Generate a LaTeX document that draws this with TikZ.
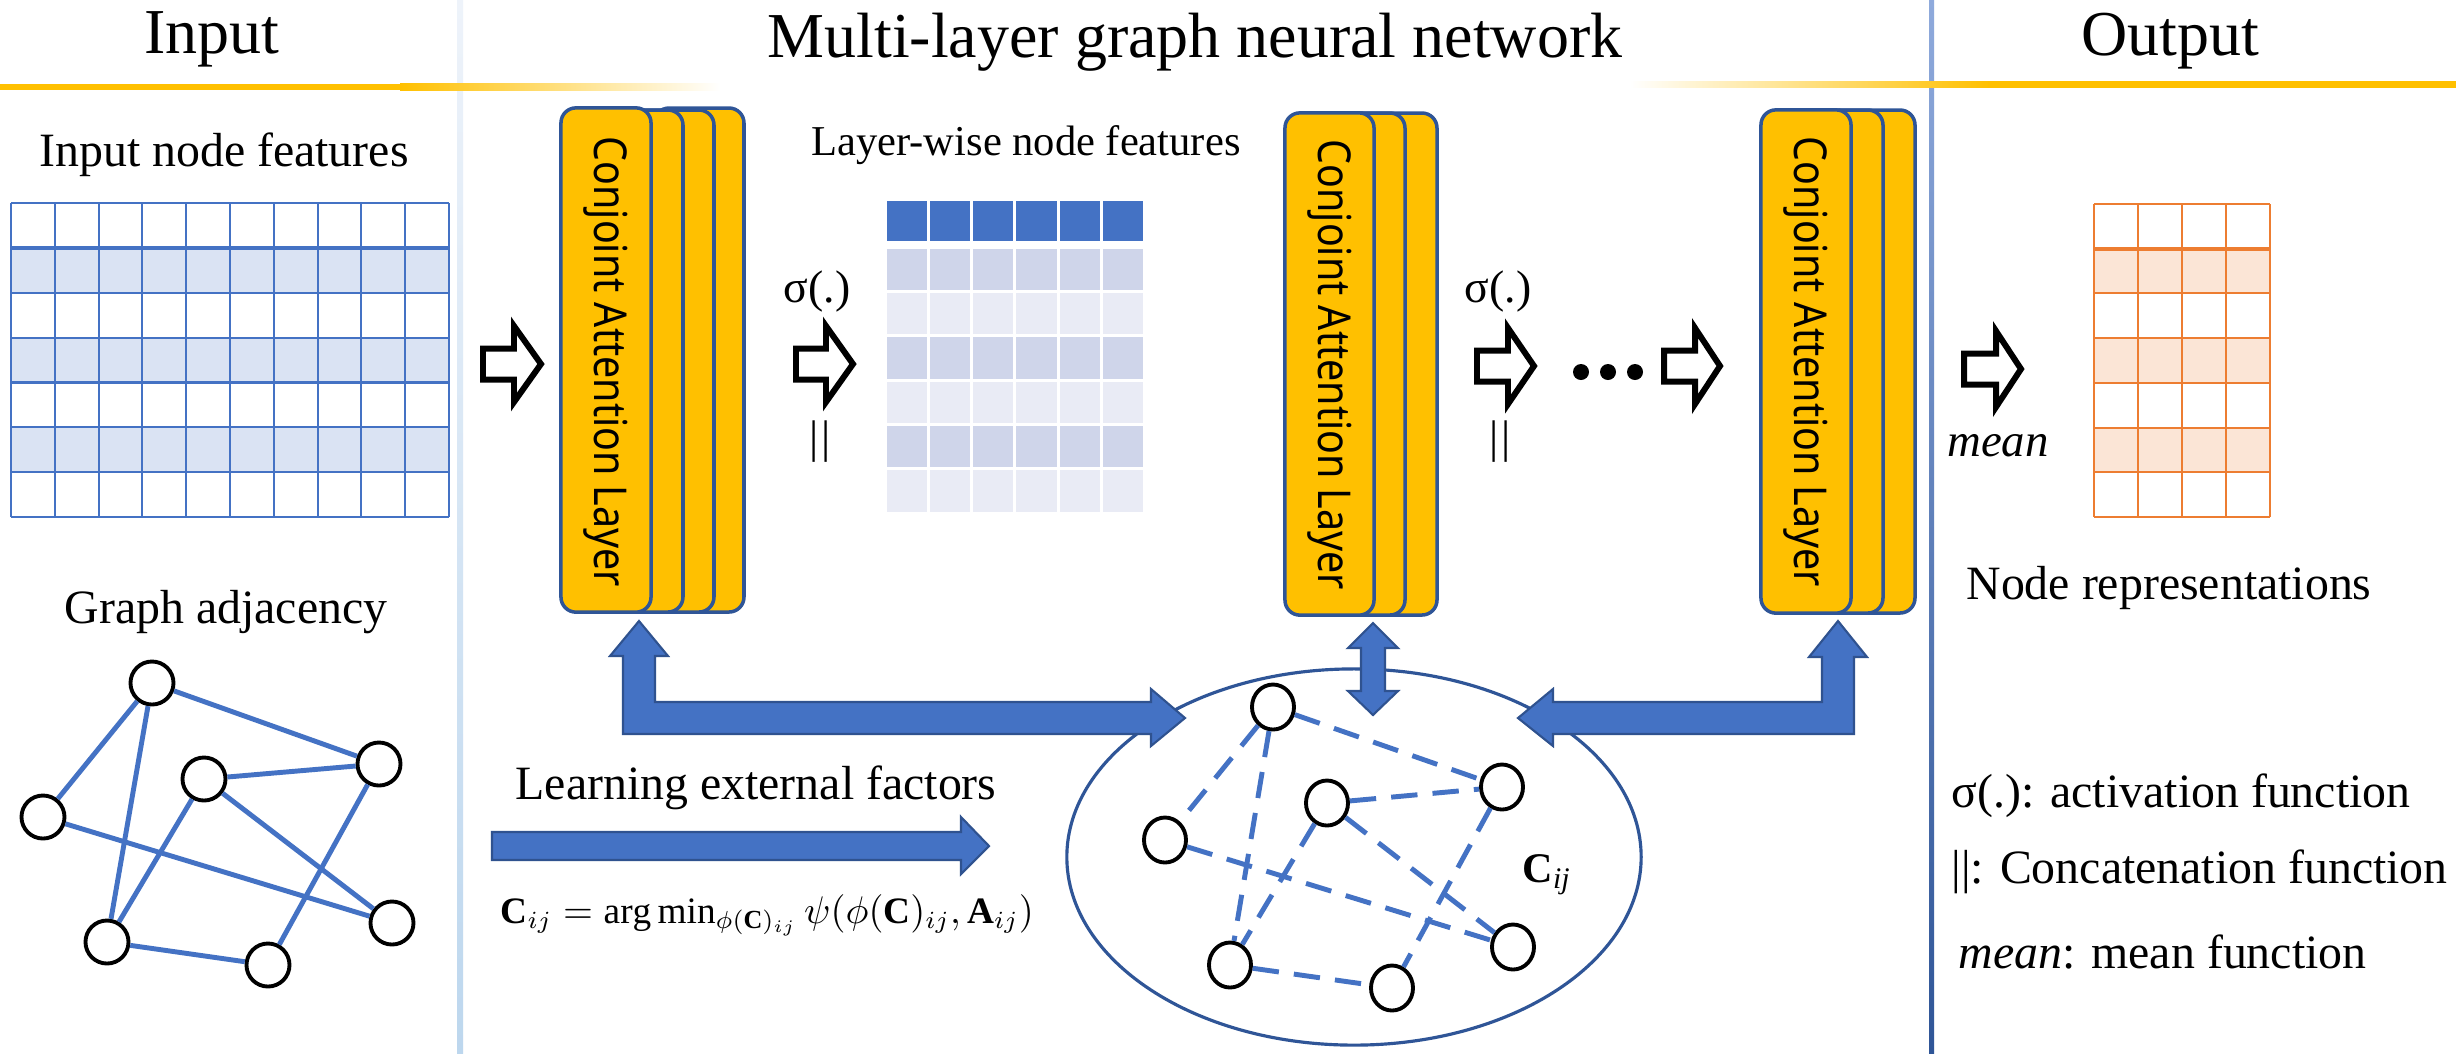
\documentclass[tikz,border=0pt]{standalone}
\usepackage{fontspec}
\usepackage{graphicx}
\setmainfont{Liberation Serif}
\newfontfamily\calfont{Noto Sans}
\usetikzlibrary{shapes.geometric}
\definecolor{accblue}{HTML}{4472C4}
\definecolor{darkblue}{HTML}{2F5597}
\definecolor{edgeblue}{HTML}{2F528F}
\definecolor{gold}{HTML}{FFC000}
\definecolor{lightrow}{HTML}{DAE3F3}
\definecolor{bandA}{HTML}{CFD5EA}
\definecolor{bandB}{HTML}{E9EBF5}
\definecolor{orng}{HTML}{ED7D31}
\definecolor{orngrow}{HTML}{FBE5D6}
\definecolor{seplight}{HTML}{BDD7EE}
\definecolor{septop}{HTML}{EEF3FA}
\definecolor{sepmid}{HTML}{8FAADC}
\newcommand\harw[4]{%
  \draw[harrow] (#1,#4-15.5) -- (#2,#4-15.5) -- (#2,#4-38) -- (#3,#4) -- (#2,#4+38) -- (#2,#4+15.5) -- (#1,#4+15.5) -- cycle;}
\tikzset{
  hdr/.style={font=\fontsize{18.2}{22}\selectfont, inner sep=0pt, anchor=base},
  lbl/.style={font=\fontsize{13.6}{16}\selectfont, inner sep=0pt, anchor=base},
  stackbox/.style={fill=gold, draw=darkblue, line width=1pt, rounded corners=0.15cm},
  caltext/.style={rotate=-90, inner sep=0pt, font=\calfont\fontsize{11.2}{13}\selectfont},
  harrow/.style={fill=white, draw=black, line width=1.7pt, line join=miter, miter limit=10},
  barrow/.style={fill=accblue, draw=edgeblue, line width=0.6pt, line join=miter},
  gnode/.style={circle, draw=black, fill=white, line width=1.1pt, minimum size=0.43cm, inner sep=0pt},
  hnode/.style={ellipse, draw=black, fill=white, line width=1.1pt, minimum width=0.42cm, minimum height=0.45cm, inner sep=0pt},
  gedge/.style={draw=accblue, line width=1.4pt},
  hedge/.style={draw=accblue, line width=1.4pt, dash pattern=on 7.5pt off 4.3pt},
  bgrid/.style={draw=accblue, line width=0.6pt},
  ogrid/.style={draw=orng, line width=0.6pt},
}
\begin{document}
\begin{tikzpicture}[x=0.01cm,y=-0.01cm]
\useasboundingbox (0,0) rectangle (2456,1053);
\fill[white] (0,0) rectangle (2456,1053);

% separators and header rules
\shade[top color=septop, bottom color=seplight] (457,0) rectangle (463,1053);
\shade[top color=sepmid, bottom color=darkblue] (1929,0) rectangle (1934,1053);
\fill[gold] (0,83.5) rectangle (400,90);
\shade[left color=gold, right color=white] (400,83.5) rectangle (720,90);
\shade[left color=white, right color=gold] (1630,81) rectangle (1990,87.5);
\fill[gold] (1990,81) rectangle (2456,87.5);

% headers
\node[hdr] (hin) at (212,53) {Input};
\node[hdr] (hmid) at (1195,57) {Multi-layer graph neural network};
\node[hdr] (hout) at (2170,55) {Output};

% input node features
\node[lbl] (tinf) at (224,166) {Input node features};
\foreach \r in {1,3,5}
  \fill[lightrow] (11,{203+\r*44.857}) rectangle (449,{203+(\r+1)*44.857});
\foreach \i in {0,...,10}
  \draw[bgrid] ({11+\i*43.8},203) -- ({11+\i*43.8},517);
\foreach \j in {0,2,3,4,5,6,7}
  \draw[bgrid] (11,{203+\j*44.857}) -- (449,{203+\j*44.857});
\draw[accblue, line width=1.2pt] (11,247.9) -- (449,247.9);

% graph adjacency
\node[lbl] (tga) at (226,623) {Graph adjacency};
\node[gnode] (g1) at (152,683) {};
\node[gnode] (g2) at (379,764) {};
\node[gnode] (g3) at (204,779) {};
\node[gnode] (g4) at (43,817) {};
\node[gnode] (g5) at (392,923) {};
\node[gnode] (g6) at (107,942) {};
\node[gnode] (g7) at (268,965) {};
\foreach \a/\b in {g1/g4,g1/g6,g1/g2,g3/g2,g3/g6,g3/g5,g4/g5,g2/g7,g6/g7}
  \draw[gedge] (\a) -- (\b);

% layer stack 1
\draw[stackbox] (654,108) rectangle (744,612);
\draw[stackbox] (624,110) rectangle (714,612);
\draw[stackbox] (593,110) rectangle (683,612);
\node[stackbox, minimum width=0.9cm, minimum height=5.04cm, inner sep=0pt] (L1) at (606,360) {};
\node[caltext] (t1) at (606,362) {\scalebox{1}[1.15]{Conjoint Attention Layer}};

% layer stack 2
\draw[stackbox] (1348,113) rectangle (1437,615);
\draw[stackbox] (1316,113) rectangle (1405,615);
\node[stackbox, minimum width=0.89cm, minimum height=5.02cm, inner sep=0pt] (L2) at (1329.5,364) {};
\node[caltext] (t2) at (1329.5,365) {\scalebox{1}[1.15]{Conjoint Attention Layer}};

% layer stack 3
\draw[stackbox] (1826,110) rectangle (1915,613);
\draw[stackbox] (1794,110) rectangle (1883,613);
\node[stackbox, minimum width=0.9cm, minimum height=5.03cm, inner sep=0pt] (L3) at (1806,361.5) {};
\node[caltext] (t3) at (1806,362) {\scalebox{1}[1.15]{Conjoint Attention Layer}};

% layer-wise node features
\node[lbl, font=\fontsize{12.1}{14}\selectfont] (tlw) at (1026,155) {Layer-wise node features};
\foreach \i in {0,...,5}
  \fill[accblue] ({885+\i*43.33+1.5},201) rectangle ({885+(\i+1)*43.33-1.5},241);
\foreach \j/\c in {0/bandA,1/bandB,2/bandA,3/bandB,4/bandA,5/bandB}
  \foreach \i in {0,...,5}
    \fill[\c] ({885+\i*43.33+1.5},{247+\j*44.33+1.5}) rectangle ({885+(\i+1)*43.33-1.5},{247+(\j+1)*44.33-1.5});

% hollow arrows
\harw{483}{514}{541}{364}
\harw{796}{826}{853}{364}
\harw{1477}{1508}{1534}{366}
\harw{1664}{1695}{1720}{366}
\harw{1964}{1996}{2021}{369}

\node[lbl, font=\fontsize{13}{15}\selectfont] (s1) at (817,302) {σ(.)};
\node[lbl, font=\fontsize{13}{15}\selectfont] (s2) at (1498,302) {σ(.)};
\node[inner sep=0pt, font=\fontsize{13}{15}\selectfont] (c1) at (820,442) {\textbar\kern0.8pt\textbar};
\node[inner sep=0pt, font=\fontsize{13}{15}\selectfont] (c2) at (1500,442) {\textbar\kern0.8pt\textbar};
\foreach \x in {1581,1608,1635}
  \fill[black] (\x,372) circle (0.08cm);
\node[lbl, font=\fontsize{13.3}{15}\selectfont\itshape] (tmean) at (1998,456) {mean};

% output grid
\foreach \r in {1,3,5}
  \fill[orngrow] (2094,{204+\r*44.71}) rectangle (2270,{204+(\r+1)*44.71});
\foreach \i in {0,...,4}
  \draw[ogrid] ({2094+\i*44},204) -- ({2094+\i*44},517);
\foreach \j in {0,2,3,4,5,6,7}
  \draw[ogrid] (2094,{204+\j*44.71}) -- (2270,{204+\j*44.71});
\draw[orng, line width=1.2pt] (2094,248.7) -- (2270,248.7);
\node[lbl] (tnr) at (2169,599) {Node representations};

% legend
\node[lbl, anchor=base west] (lg1) at (1951,807) {σ(.): activation function};
\node[lbl, anchor=base west] (lg2) at (1951,883) {||: Concatenation function};
\node[lbl, anchor=base west] (lg3) at (1958,968) {\textit{mean}: mean function};

% external factors
\node[draw=darkblue, line width=0.9pt, ellipse, minimum width=5.74cm, minimum height=3.76cm, inner sep=0pt] (E) at (1354,857) {};
\node[hnode] (h1) at (1273,707) {};
\node[hnode] (h2) at (1502,787) {};
\node[hnode] (h3) at (1327,803) {};
\node[hnode] (h4) at (1165,840) {};
\node[hnode] (h5) at (1513,947) {};
\node[hnode] (h6) at (1230,965) {};
\node[hnode] (h7) at (1392,988) {};
\foreach \a/\b in {h1/h4,h1/h6,h1/h2,h3/h2,h3/h6,h3/h5,h4/h5,h2/h7,h6/h7}
  \draw[hedge] (\a) -- (\b);
\node[inner sep=0pt, anchor=base west, font=\fontsize{12}{14}\selectfont] (cij) at (1522,882) {\textbf{C}\raisebox{-0.35ex}{\fontsize{8.5}{10}\selectfont\itshape ij}};

% blue arrows
\draw[barrow] (623,734) -- (623,656) -- (610,656) -- (639,621) -- (668,656) -- (655,656) -- (655,702) -- (1151,702) -- (1151,689) -- (1185,718) -- (1151,746) -- (1151,734) -- cycle;
\draw[barrow] (1373,623) -- (1398,648) -- (1385,648) -- (1385,691) -- (1398,691) -- (1373,715) -- (1348,691) -- (1361,691) -- (1361,648) -- (1348,648) -- cycle;
\draw[barrow] (1854,734) -- (1854,657) -- (1867,657) -- (1838,621) -- (1809,657) -- (1822,657) -- (1822,702) -- (1553,702) -- (1553,689) -- (1518,718) -- (1553,746) -- (1553,734) -- cycle;
\draw[barrow] (492,832) -- (961,832) -- (961,817) -- (989,846) -- (961,874) -- (961,860) -- (492,860) -- cycle;

\node[lbl, anchor=base west] (tlef) at (515,799) {Learning external factors};
\node[inner sep=0pt, anchor=base west, font=\fontsize{10.6}{12}\selectfont] (form) at (500,923) {$\mathbf{C}_{ij}=\arg\min_{\phi(\mathbf{C})_{ij}}\psi(\phi(\mathbf{C})_{ij},\mathbf{A}_{ij})$};
\end{tikzpicture}
\end{document}
